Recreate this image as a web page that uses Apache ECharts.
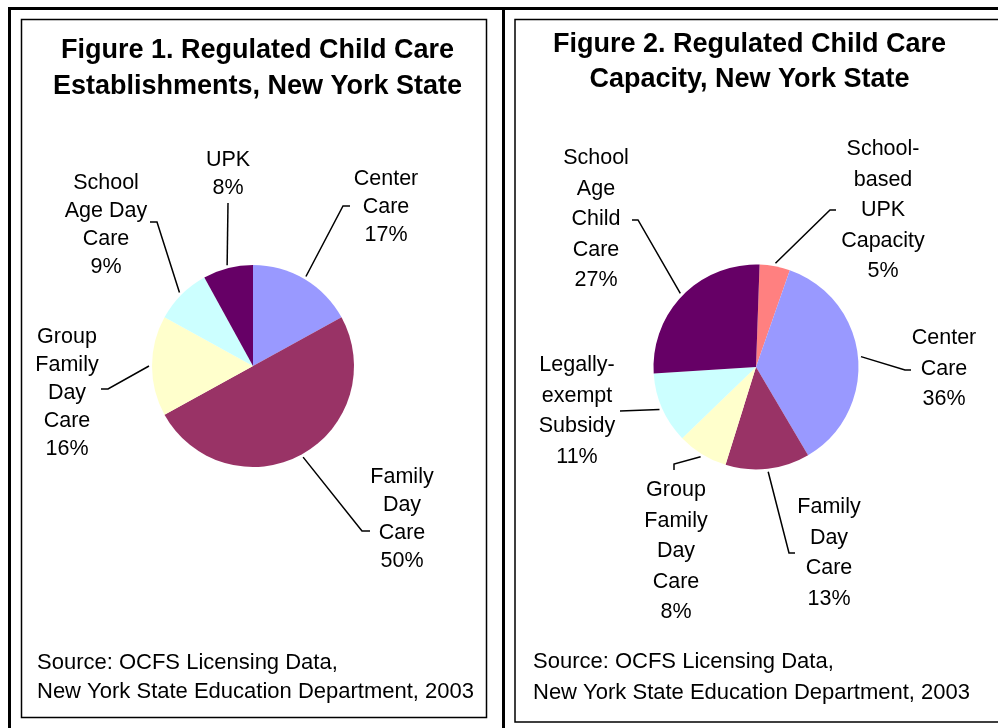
<!DOCTYPE html>
<html>
<head>
<meta charset="utf-8">
<script src="https://cdn.jsdelivr.net/npm/echarts@6/dist/echarts.min.js"></script>
<style>
  html, body { margin: 0; padding: 0; background: #fff; }
  #chart { width: 998px; height: 728px; }
</style>
</head>
<body>
<div id="chart"></div>
<script>
// Figure 1 - establishments
var estNames = ['Center\nCare', 'Family\nDay\nCare', 'Group\nFamily\nDay\nCare', 'School\nAge Day\nCare', 'UPK'];
var estValues = [17, 50, 16, 9, 8];
var estColors = ['#9999FF', '#993366', '#FFFFCC', '#CCFFFF', '#660066'];

// Figure 2 - capacity
var capNames = ['School-\nbased\nUPK\nCapacity', 'Center\nCare', 'Family\nDay\nCare', 'Group\nFamily\nDay\nCare', 'Legally-\nexempt\nSubsidy', 'School\nAge\nChild\nCare'];
var capValues = [4.8, 36.2, 13.3, 8.0, 11.2, 26.6];
var capColors = ['#FF8080', '#9999FF', '#993366', '#FFFFCC', '#CCFFFF', '#660066'];

// label placement (top-center of text block) and leader line elbows, in px
var estLabelPos = [[386, 165], [402, 463], [67, 323], [106, 169], [228, 146]];
var estLineEnds = [
    [[343, 206], [350, 206]],
    [[362, 531], [370, 531]],
    [[108, 389], [101, 389]],
    [[157, 222], [150, 222]],
    [[228, 203], [228, 203]]
];
var capLabelPos = [[883, 134], [944, 323], [829, 492], [676, 475], [577, 350], [596, 143]];
var capLineEnds = [
    [[830, 210], [836, 210]],
    [[905, 370], [911, 370]],
    [[789, 553], [795, 553]],
    [[674, 464], [674, 470]],
    [[620, 411], [620, 411]],
    [[638, 220], [632, 220]]
];

var FONT = '"Liberation Sans", Arial, sans-serif';

// point just outside the pie edge at the middle of a slice
function edgePoint(center, r, values, startAngle, idx) {
    var total = 0, before = 0;
    for (var i = 0; i < values.length; i++) {
        total += values[i];
        if (i < idx) before += values[i];
    }
    var mid = (before + values[idx] / 2) / total;
    var a = (startAngle - mid * 360) * Math.PI / 180;
    return [center[0] + (r + 3) * Math.cos(a), center[1] - (r + 3) * Math.sin(a)];
}

function makePie(names, values, colors, center, radius, startAngle, labelPos, lineEnds, lineHeight) {
    var data = [];
    for (var i = 0; i < values.length; i++) {
        data.push({ name: names[i], value: values[i], itemStyle: { color: colors[i] } });
    }
    return {
        type: 'pie',
        center: center,
        radius: radius,
        startAngle: startAngle,
        clockwise: true,
        avoidLabelOverlap: false,
        silent: true,
        itemStyle: { borderWidth: 0 },
        label: {
            show: true,
            position: 'outside',
            color: '#000',
            fontFamily: FONT,
            fontSize: 21.5,
            lineHeight: lineHeight,
            align: 'center',
            formatter: function (p) {
                return p.name + '\n' + Math.round(p.percent) + '%';
            }
        },
        labelLine: {
            show: true,
            length: 10,
            length2: 10,
            lineStyle: { color: '#000', width: 1.5 }
        },
        labelLayout: function (params) {
            var i = params.dataIndex;
            var start = edgePoint(center, radius, values, startAngle, i);
            return {
                x: labelPos[i][0],
                y: labelPos[i][1],
                align: 'center',
                verticalAlign: 'top',
                labelLinePoints: [start, lineEnds[i][0], lineEnds[i][1]]
            };
        },
        data: data
    };
}

var myChart = echarts.init(document.getElementById('chart'), null, { renderer: 'canvas' });

var option = {
    backgroundColor: '#fff',
    animation: false,
    graphic: [
        // outer heavy frames
        { type: 'rect', shape: { x: 9.5, y: 8.5, width: 494, height: 800 }, style: { fill: 'none', stroke: '#000', lineWidth: 3 } },
        { type: 'rect', shape: { x: 503.5, y: 8.5, width: 600, height: 800 }, style: { fill: 'none', stroke: '#000', lineWidth: 3 } },
        // inner thin frames
        { type: 'rect', shape: { x: 21.5, y: 19.5, width: 465, height: 698 }, style: { fill: 'none', stroke: '#000', lineWidth: 1.5 } },
        { type: 'rect', shape: { x: 515, y: 19.5, width: 500, height: 702.5 }, style: { fill: 'none', stroke: '#000', lineWidth: 1.5 } },
        // titles
        { type: 'text', x: 257.5, y: 33, style: { text: 'Figure 1. Regulated Child Care\nEstablishments, New York State', align: 'center', verticalAlign: 'top', font: 'bold 27px ' + FONT, lineHeight: 36, fill: '#000' } },
        { type: 'text', x: 749.5, y: 27.5, style: { text: 'Figure 2. Regulated Child Care\nCapacity, New York State', align: 'center', verticalAlign: 'top', font: 'bold 27px ' + FONT, lineHeight: 35, fill: '#000' } },
        // sources
        { type: 'text', x: 37, y: 648.5, style: { text: 'Source: OCFS Licensing Data,\nNew York State Education Department, 2003', align: 'left', verticalAlign: 'top', font: '22px ' + FONT, lineHeight: 29, fill: '#000' } },
        { type: 'text', x: 533, y: 646, style: { text: 'Source: OCFS Licensing Data,\nNew York State Education Department, 2003', align: 'left', verticalAlign: 'top', font: '22px ' + FONT, lineHeight: 31, fill: '#000' } }
    ],
    series: [
        makePie(estNames, estValues, estColors, [253, 366], 101, 90, estLabelPos, estLineEnds, 28),
        makePie(capNames, capValues, capColors, [756, 367], 102.5, 88, capLabelPos, capLineEnds, 30.5)
    ]
};

myChart.setOption(option, true);
</script>
</body>
</html>
